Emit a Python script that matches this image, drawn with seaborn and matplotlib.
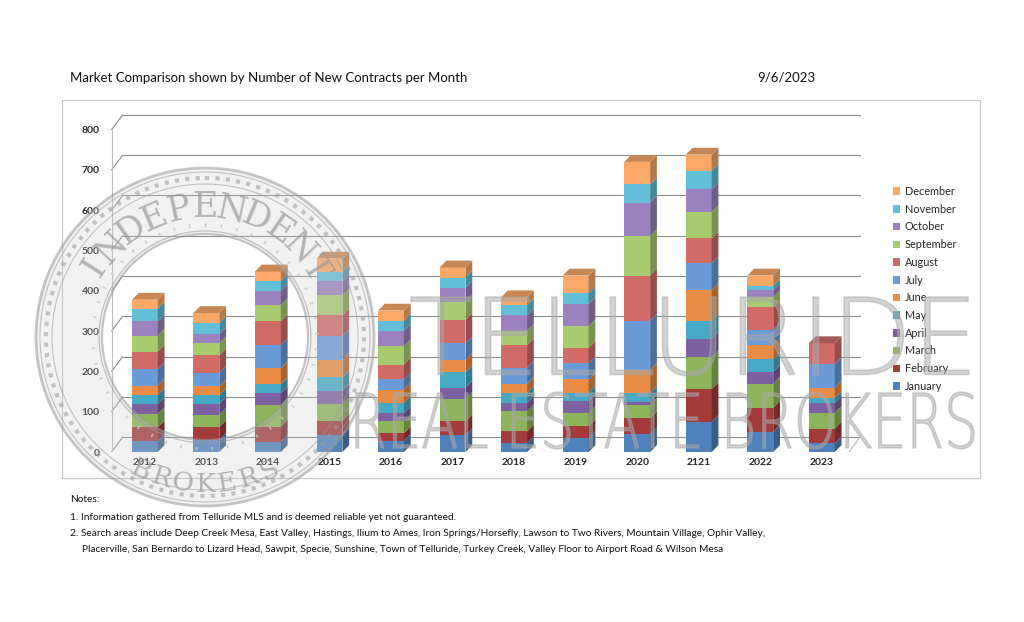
import numpy as np
import pandas as pd
import seaborn as sns
import matplotlib
matplotlib.use("Agg")
from matplotlib import pyplot as plt
from matplotlib.patches import Polygon, Circle, Rectangle, Wedge, PathPatch
from matplotlib.textpath import TextPath
from matplotlib.font_manager import FontProperties
from matplotlib.transforms import Affine2D
from matplotlib import colors as mcolors

years = ["2012", "2013", "2014", "2015", "2016", "2017", "2018", "2019", "2020", "2121", "2022", "2023"]
months = ["January", "February", "March", "April", "May", "June",
          "July", "August", "September", "October", "November", "December"]

jan = [28, 31, 26, 43, 28, 41, 22, 35, 44, 75, 50, 22]
feb = [33, 31, 37, 35, 19, 35, 29, 29, 40, 81, 60, 36]
mar = [33, 30, 54, 41, 29, 56, 50, 33, 33, 80, 60, 39]
apr = [25, 28, 29, 33, 21, 28, 21, 29, 8, 45, 29, 25]
may = [23, 21, 22, 33, 25, 38, 25, 21, 21, 45, 31, 12]
jun = [23, 22, 40, 44, 33, 31, 22, 33, 58, 76, 36, 26]
jul = [41, 33, 58, 58, 25, 41, 40, 41, 122, 66, 37, 58]
aug = [43, 44, 58, 52, 37, 58, 56, 37, 112, 62, 56, 52]
sep = [40, 30, 41, 50, 45, 45, 36, 54, 98, 66, 25, 0]
octo = [36, 23, 35, 35, 39, 35, 38, 55, 83, 56, 17, 0]
nov = [31, 27, 25, 23, 25, 25, 25, 27, 45, 45, 12, 0]
dec = [22, 25, 23, 33, 25, 25, 20, 44, 56, 41, 25, 0]

month_colors = ["#4F81BD", "#A33B3A", "#8DB45A", "#7D60A0", "#46AAC5", "#E88C45",
                "#6A9AD8", "#D06B68", "#A9CB6F", "#9B82BE", "#63BED8", "#F9A867"]

series = [jan, feb, mar, apr, may, jun, jul, aug, sep, octo, nov, dec]
rows = []
for m, vals in zip(months, series):
    for y, v in zip(years, vals):
        rows.append({"year": y, "month": m, "count": v})
df = pd.DataFrame(rows)

sns.set_style("white")
plt.rcParams["font.family"] = ["Lato", "DejaVu Sans"]

W, H = 1024, 622
fig = plt.figure(figsize=(W / 100, H / 100), dpi=100)

px_left, px_right, px_bottom, px_top = 111, 868, 452, 109.5
ax = fig.add_axes([px_left / W, 1 - px_bottom / H, (px_right - px_left) / W, (px_bottom - px_top) / H])

hue_order = months[::-1]
palette = dict(zip(months, month_colors))
sns.histplot(data=df, x="year", weights="count", hue="month", hue_order=hue_order,
             multiple="stack", discrete=True, shrink=0.42, palette=palette,
             alpha=1, linewidth=0, ax=ax, zorder=3)

ax.set_xlim(-0.55, 11.75)
ax.set_ylim(0, 850)

# side and top faces for the 3D look, taken from the drawn bars
bx, by = 0.11, 17
rects = [p for p in ax.patches if isinstance(p, Rectangle) and p.get_height() > 0]
rects.sort(key=lambda p: (p.get_x(), p.get_y()))
tops = {}
for p in rects:
    key = round(p.get_x(), 3)
    tops[key] = max(tops.get(key, 0), p.get_y() + p.get_height())
for p in rects:
    x0, y0 = p.get_x(), p.get_y()
    x1, y1 = x0 + p.get_width(), y0 + p.get_height()
    c = np.array(mcolors.to_rgb(p.get_facecolor()))
    side = Polygon([(x1, y0), (x1 + bx, y0 + by), (x1 + bx, y1 + by), (x1, y1)],
                   closed=True, facecolor=c * 0.72, edgecolor="none", zorder=3)
    ax.add_patch(side)
    if abs(y1 - tops[round(x0, 3)]) < 1e-6:
        top = Polygon([(x0, y1), (x1, y1), (x1 + bx, y1 + by), (x0 + bx, y1 + by)],
                      closed=True, facecolor=c * 0.8, edgecolor="none", zorder=3)
        ax.add_patch(top)

# walls and floor
wx0, wx1, wdx, wdy = -0.54, 11.44, 0.18, 37
gc = "#8c8c8c"
for v in range(0, 801, 100):
    ax.plot([wx0, wx0 + wdx], [v, v + wdy], color=gc, lw=0.8, zorder=1)
    ax.plot([wx0 + wdx, wx1 + wdx], [v + wdy, v + wdy], color=gc, lw=0.8, zorder=1)
ax.plot([wx0, wx1], [0, 0], color="#bdbdbd", lw=0.8, zorder=1)
ax.plot([wx1, wx1 + wdx], [0, wdy], color="#bdbdbd", lw=0.8, zorder=1)
ax.plot([wx0, wx0], [0, 800], color="#bdbdbd", lw=0.8, zorder=1)

for s in ax.spines.values():
    s.set_visible(False)
ax.set_yticks(range(0, 801, 100))
ax.set_yticklabels([str(v) for v in range(0, 801, 100)], fontsize=7.5, fontweight="bold")
ax.tick_params(axis="both", length=0)
ax.tick_params(axis="y", pad=8)
ax.tick_params(axis="x", pad=4)
for t in ax.get_xticklabels():
    t.set_fontsize(7.5)
    t.set_fontweight("bold")
ax.set_xlabel("")
ax.set_ylabel("")
ax.patch.set_alpha(0)

sns.move_legend(ax, "center left", bbox_to_anchor=(1.02, 0.476), frameon=False, title=None,
                fontsize=7.8, handlelength=0.7, handleheight=0.7, handletextpad=0.4,
                labelspacing=0.62)

# overlay in pixel coordinates for the frame, texts and watermark
ov = fig.add_axes([0, 0, 1, 1], zorder=10)
ov.set_xlim(0, W)
ov.set_ylim(H, 0)
ov.axis("off")
ov.patch.set_alpha(0)

ov.add_patch(Rectangle((62, 100), 918, 378, fill=False, edgecolor="#c8c8c8", lw=0.9))
ov.text(70, 78, "Market Comparison shown by Number of New Contracts per Month",
        fontsize=9.5, va="center", ha="left", color="#111111")
ov.text(757, 78, "9/6/2023", fontsize=9.5, va="center", ha="left", color="#111111")

notes = [
    (70, 500, "Notes:"),
    (70, 517, "1. Information gathered from Telluride MLS and is deemed reliable yet not guaranteed."),
    (70, 533, "2. Search areas include Deep Creek Mesa, East Valley, Hastings, Ilium to Ames, Iron Springs/Horsefly, "
              "Lawson to Two Rivers, Mountain Village, Ophir Valley,"),
    (82, 549, "Placerville, San Bernardo to Lizard Head, Sawpit, Specie, Sunshine, Town of Telluride, Turkey Creek, "
              "Valley Floor to Airport Road & Wilson Mesa"),
]
for x, y, s in notes:
    ov.text(x, y, s, fontsize=7.3, va="center", ha="left", color="#111111")

# watermark seal
wm = "#9a9a9a"
cx, cy, R = 205, 337, 169
ov.add_patch(Wedge((cx, cy), R, 0, 360, width=R - 103, facecolor="#d0d0d0", alpha=0.28, edgecolor="none"))
for r, lw, ls in [(R, 2.0, "-"), (R - 4, 0.8, "-"), (R - 10, 3.0, (0, (1, 1.5))),
                  (R - 16, 0.8, "-"), (106, 0.9, "-"), (103, 1.6, "-")]:
    ov.add_patch(Circle((cx, cy), r, fill=False, edgecolor=wm, lw=lw, ls=ls, alpha=0.55))
ov.add_patch(Circle((cx, cy), 112, fill=False, edgecolor="#c8c8c8", lw=2.5, ls=(0, (0.5, 4)), alpha=0.8))

word_top = "INDEPENDENT"
for ch, a in zip(word_top, np.linspace(148, 32, len(word_top))):
    x = cx + 130 * np.cos(np.radians(a))
    y = cy - 130 * np.sin(np.radians(a))
    ov.text(x, y, ch, fontsize=25, rotation=a - 90, ha="center", va="center",
            color=wm, alpha=0.7, family="DejaVu Serif")
word_bot = "BROKERS"
for ch, a in zip(word_bot, np.linspace(-116, -64, len(word_bot))):
    x = cx + 148 * np.cos(np.radians(a))
    y = cy - 148 * np.sin(np.radians(a))
    ov.text(x, y, ch, fontsize=19, rotation=a + 90, ha="center", va="center",
            color=wm, alpha=0.7, family="DejaVu Serif")


def fitted_word(s, x0, x1, ytop, ybot):
    tp = TextPath((0, 0), s, size=100, prop=FontProperties(family="DejaVu Sans", weight="light"))
    bb = tp.get_extents()
    sx = (x1 - x0) / bb.width
    sy = (ybot - ytop) / bb.height
    tr = Affine2D().translate(-bb.x0, -bb.y0).scale(sx, -sy).translate(x0, ybot)
    ov.add_patch(PathPatch(tr.transform_path(tp), facecolor="#a8a8a8", edgecolor="#a8a8a8",
                           lw=1.1, alpha=0.5))


fitted_word("TELLURIDE", 411, 969, 297, 376)
fitted_word("REAL ESTATE BROKERS", 356, 974, 392, 449)

fig.savefig("out.png", dpi=100)
